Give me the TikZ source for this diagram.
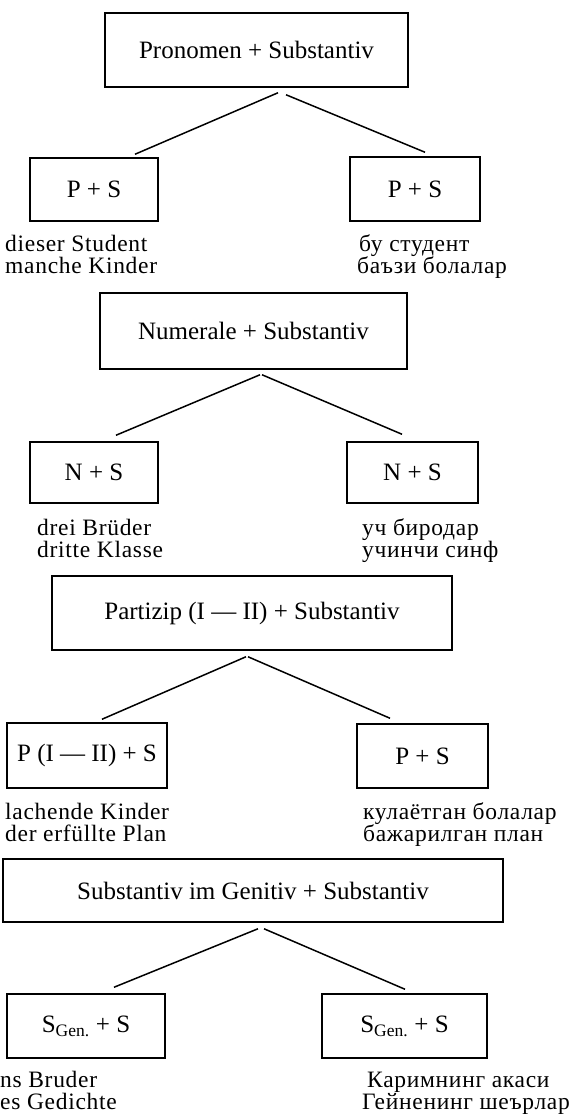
\documentclass[tikz,border=0pt]{standalone}
\usepackage{fontspec}
\setmainfont{Liberation Serif}
\newfontfamily\examplefont[LetterSpace=3]{Liberation Serif}

\begin{document}
\begin{tikzpicture}[x=1pt,y=-1pt,
    box/.style={draw,line width=1.5pt,inner sep=0pt,font=\fontsize{25}{27}\selectfont},
    example/.style={anchor=base west,inner sep=0pt,align=left,font=\examplefont\fontsize{23.5}{22}\selectfont},
    link/.style={line width=1.5pt}]
     \useasboundingbox (0,0) rectangle (569,1114);
     % Pronomen + Substantiv
     \node[box,minimum width=303pt,minimum height=74pt] (pron) at (256.5,50) {Pronomen + Substantiv};
     \node[box,minimum width=128pt,minimum height=63pt] (pronL) at (94,189.5) {P + S};
     \node[box,minimum width=130pt,minimum height=64pt] (pronR) at (415,189) {P + S};
     \draw[link] ([xshift=21.5pt,yshift=-5pt]pron.south) -- ([xshift=41pt,yshift=3pt]pronL.north);
     \draw[link] ([xshift=29.5pt,yshift=-7pt]pron.south) -- ([xshift=10pt,yshift=4pt]pronR.north);
     \node[example] (pronLx) at (5,273) {dieser Student\\manche Kinder};
     \node[example] (pronRx) at (357,273) {\hspace*{2pt}бу студент\\баъзи болалар};
     % Numerale + Substantiv
     \node[box,minimum width=307pt,minimum height=76pt] (num) at (253.5,331) {Numerale + Substantiv};
     \node[box,minimum width=128pt,minimum height=61pt] (numL) at (94,472.5) {N + S};
     \node[box,minimum width=131pt,minimum height=61pt] (numR) at (412.5,472.5) {N + S};
     \draw[link] ([xshift=6.5pt,yshift=-5pt]num.south) -- ([xshift=22pt,yshift=6pt]numL.north);
     \draw[link] ([xshift=8.5pt,yshift=-5pt]num.south) -- ([xshift=-10.5pt,yshift=7pt]numR.north);
     \node[example] (numLx) at (37,557) {drei Brüder\\dritte Klasse};
     \node[example] (numRx) at (362,557) {уч биродар\\учинчи синф};
     % Partizip + Substantiv
     \node[box,minimum width=400pt,minimum height=74pt] (part) at (252,613) {Partizip (I — II) + Substantiv};
     \node[box,minimum width=160pt,minimum height=65pt] (partL) at (87,755.5) {P (I — II) + S};
     \node[box,minimum width=131pt,minimum height=64pt] (partR) at (422.5,756) {P + S};
     \draw[link] ([xshift=-6pt,yshift=-6pt]part.south) -- ([xshift=15pt,yshift=3pt]partL.north);
     \draw[link] ([xshift=-4pt,yshift=-6pt]part.south) -- ([xshift=-32.5pt,yshift=5pt]partR.north);
     \node[example] (partLx) at (5,841) {lachende Kinder\\der erfüllte Plan};
     \node[example] (partRx) at (363,841) {кулаётган болалар\\бажарилган план};
     % Substantiv im Genitiv + Substantiv
     \node[box,minimum width=500pt,minimum height=63pt] (gen) at (253,890.5) {Substantiv im Genitiv + Substantiv};
     \node[box,minimum width=158pt,minimum height=64pt] (genL) at (86,1026) {S\textsubscript{Gen.} + S};
     \node[box,minimum width=165pt,minimum height=64pt] (genR) at (404.5,1026) {S\textsubscript{Gen.} + S};
     \draw[link] ([xshift=5pt,yshift=-6pt]gen.south) -- ([xshift=28pt,yshift=6pt]genL.north);
     \draw[link] ([xshift=11pt,yshift=-6pt]gen.south) -- ([xshift=0.5pt,yshift=4pt]genR.north);
     \node[example] (genLx) at (0,1109) {ns Bruder\\es Gedichte};
     \node[example] (genRx) at (362,1109) {\hspace*{5pt}Каримнинг акаси\\Гейненинг шеърлар};
\end{tikzpicture}
\end{document}
